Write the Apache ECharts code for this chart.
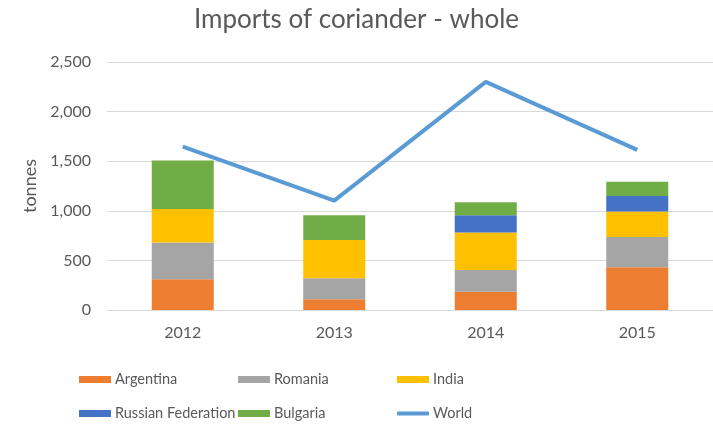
<!DOCTYPE html>
<html>
<head>
<meta charset="utf-8">
<script src="https://cdn.jsdelivr.net/npm/echarts@6/dist/echarts.min.js"></script>
<style>
  html, body { margin: 0; padding: 0; background: #fff; }
  #chart { width: 713px; height: 426px; }
</style>
</head>
<body>
<div id="chart"></div>
<script>
const years = ['2012', '2013', '2014', '2015']
const argentina = [310, 108, 185, 431]
const romania = [370, 212, 219, 306]
const india = [337, 386, 376, 255]
const russia = [null, null, 175, 158]
const bulgaria = [490, 249, 132, 142]
const world = [1648, 1103, 2300, 1614]
const yTicks = [0, 500, 1000, 1500, 2000, 2500]

const FONT = 'Lato, "Open Sans", sans-serif'
const GREY = '#595959'

const chart = echarts.init(document.getElementById('chart'))

const bar = (name, data, color) => ({
  name, type: 'bar', stack: 'total', data, barWidth: 62,
  itemStyle: { color }
})

const legendAt = (name, left, top, isLine) => ({
  data: [name], left, top,
  itemWidth: 32, itemHeight: isLine ? 4 : 7, itemGap: 4,
  icon: isLine ? 'roundRect' : 'rect',
  textStyle: { color: GREY, fontSize: 14.5, fontFamily: FONT, padding: [0, 0, 0, -1] }
})

chart.setOption({
  animation: false,
  title: {
    text: 'Imports of coriander - whole',
    left: 'center', top: 2,
    textStyle: { color: GREY, fontSize: 26, fontWeight: 'normal', fontFamily: FONT }
  },
  legend: [
    legendAt('Argentina', 74, 367),
    legendAt('Romania', 233, 367),
    legendAt('India', 392, 367),
    legendAt('Russian Federation', 74, 401),
    legendAt('Bulgaria', 233, 401),
    legendAt('World', 392, 401, true)
  ],
  grid: { left: 107, top: 62, width: 620, height: 248 },
  xAxis: {
    type: 'category', data: years,
    axisLine: { lineStyle: { color: '#d9d9d9' } },
    axisTick: { show: false },
    axisLabel: { color: GREY, fontSize: 16, fontFamily: FONT, margin: 15 }
  },
  yAxis: {
    type: 'value', min: yTicks[0], max: yTicks[yTicks.length - 1], interval: 500,
    name: 'tonnes', nameLocation: 'middle', nameGap: 62, nameRotate: 90,
    nameTextStyle: { color: GREY, fontSize: 18, fontFamily: FONT },
    axisLabel: {
      color: GREY, fontSize: 16, fontFamily: FONT, margin: 16,
      formatter: v => v.toLocaleString('en-US')
    },
    splitLine: { lineStyle: { color: '#d9d9d9' } }
  },
  series: [
    bar('Argentina', argentina, '#ed7d31'),
    bar('Romania', romania, '#a5a5a5'),
    bar('India', india, '#ffc000'),
    bar('Russian Federation', russia, '#4472c4'),
    bar('Bulgaria', bulgaria, '#70ad47'),
    {
      name: 'World', type: 'line', data: world,
      symbol: 'none', lineStyle: { color: '#5b9bd5', width: 4 },
      itemStyle: { color: '#5b9bd5' }
    }
  ]
})
</script>
</body>
</html>
